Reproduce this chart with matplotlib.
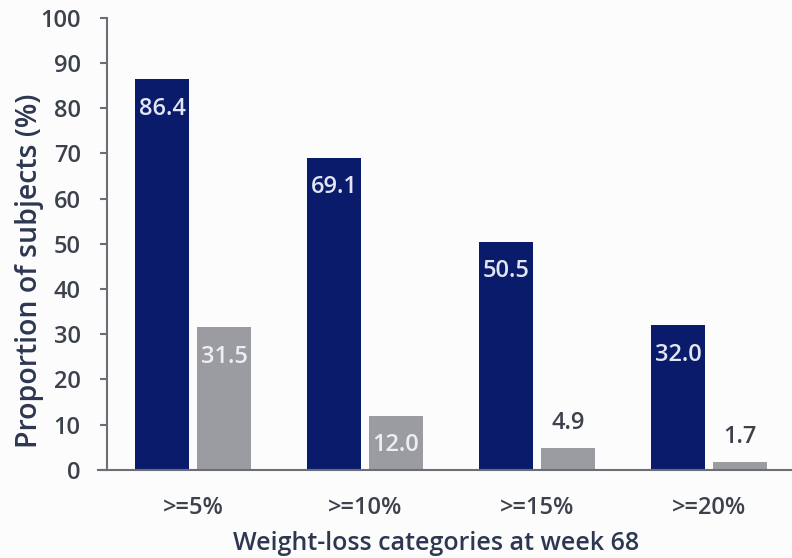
import matplotlib.pyplot as plt
import numpy as np

# data
categories = ['>=5%', '>=10%', '>=15%', '>=20%']
treated = [86.4, 69.1, 50.5, 32.0]
placebo = [31.5, 12.0, 4.9, 1.7]

navy = '#0b1b6c'
grey = '#9a9ca2'
txt = '#3c414c'

plt.rcParams['font.family'] = ['Open Sans', 'DejaVu Sans']
plt.rcParams['font.weight'] = 'semibold'
plt.rcParams['axes.labelweight'] = 'semibold'

fig = plt.figure(figsize=(7.92, 5.58), dpi=100, facecolor='#fbfcfb')
ax = fig.add_axes([0.1237, 0.158, 0.8763, 0.81])
ax.set_facecolor('#fbfcfb')

x = np.arange(len(categories))
w = 0.31
off = 0.18
b1 = ax.bar(x - off, treated, w, color=navy)
b2 = ax.bar(x + off, placebo, w, color=grey)

# labels inside the top of the bars, or above when bar is too short
for rect, v in zip(b1, treated):
    ax.annotate('%.1f' % v, (rect.get_x() + rect.get_width() / 2, v),
                xytext=(0, -21.5), textcoords='offset points',
                ha='center', va='center', fontsize=17, color='#e2e5f2')
for rect, v in zip(b2, placebo):
    if v > 10:
        ax.annotate('%.1f' % v, (rect.get_x() + rect.get_width() / 2, v),
                    xytext=(0, -21.5), textcoords='offset points',
                    ha='center', va='center', fontsize=17, color='#eeeef2')
    else:
        ax.annotate('%.1f' % v, (rect.get_x() + rect.get_width() / 2, v),
                    xytext=(0, 18), textcoords='offset points',
                    ha='center', va='center', fontsize=17, color=txt)

ax.set_ylim(0, 100)
ax.set_xlim(-0.553, 3.482)
ax.set_yticks(np.arange(0, 101, 10))
ax.set_xticks(x)
ax.set_xticklabels(categories)

for s in ['top', 'right']:
    ax.spines[s].set_visible(False)
ax.spines['left'].set_position(('data', -0.5))
for s in ['left', 'bottom']:
    ax.spines[s].set_color('#6b6e74')
    ax.spines[s].set_linewidth(1.5)

ax.tick_params(axis='y', length=5, width=1.5, color='#6b6e74', pad=14,
               labelsize=17, labelcolor=txt)
ax.tick_params(axis='x', length=0, pad=19, labelsize=17, labelcolor=txt)

ax.set_ylabel('Proportion of subjects (%)', fontsize=20.5, color='#2e3752')
ax.yaxis.set_label_coords(-0.078, 0.44)
ax.set_xlabel('Weight-loss categories at week 68', fontsize=18, color='#2e3752')
ax.xaxis.set_label_coords(0.487, -0.135)

plt.savefig('out.png', dpi=100, facecolor=fig.get_facecolor())
